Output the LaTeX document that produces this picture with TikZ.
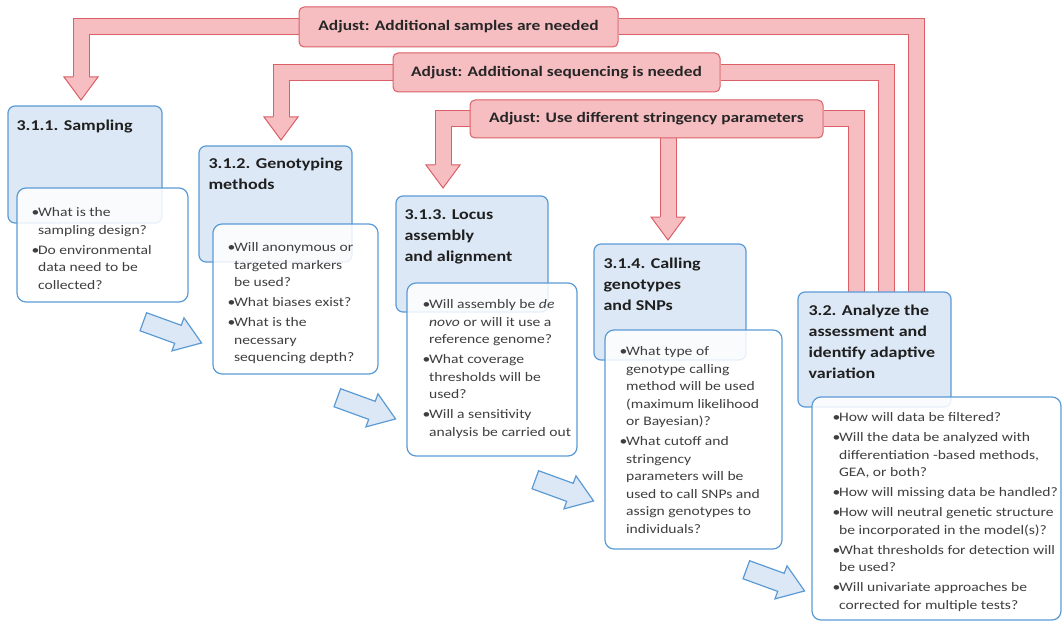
\documentclass[tikz,border=0pt]{standalone}
\usepackage{fontspec}
\setmainfont{Carlito}[FakeStretch=1.2]
\usepackage{tikz}
\usetikzlibrary{calc,shapes.arrows,backgrounds}
\definecolor{boxblue}{HTML}{DCE8F5}
\definecolor{lineblue}{HTML}{5B9BD5}
\definecolor{bandpink}{HTML}{F7BEC2}
\definecolor{bandred}{HTML}{DA5F66}
\definecolor{bodygrey}{HTML}{3F3F3F}
\newcommand\bu{\makebox[0.5em][l]{\textbullet}}
\newcommand\hg{\hspace*{0.5em}}
\newcommand\redhead[1]{\filldraw[fill=bandpink,draw=bandred,line width=1pt] ($(#1)+(-8,0)$) -- ++(-9,0) -- ($(#1)+(0,23)$) -- ($(#1)+(17,0)$) -- ++(-9,0);}

\begin{document}
\begin{tikzpicture}[x=1pt,y=-1pt,
  band/.style={draw=bandred,line width=1pt,double=bandpink,double distance=15pt},
  adjust/.style={rectangle,rounded corners=5pt,fill=bandpink,draw=bandred,line width=1pt,font=\fontsize{14.5}{17}\selectfont\bfseries,text=black!85},
  stage/.style={rectangle,rounded corners=7pt,fill=boxblue,draw=lineblue,line width=1.2pt},
  questions/.style={rectangle,rounded corners=9pt,fill=white,fill opacity=0.85,text opacity=1,draw=lineblue,line width=1.2pt},
  heading/.style={anchor=north west,inner sep=0pt,align=left,font=\fontsize{15}{21}\selectfont\bfseries,text=black!88},
  qtext/.style={anchor=north west,inner sep=0pt,align=left,font=\fontsize{13}{17.5}\selectfont,text=bodygrey},
  flow/.style={single arrow,single arrow head extend=8pt,single arrow tip angle=70,inner xsep=0pt,inner ysep=9pt,minimum height=62pt,fill=boxblue,draw=lineblue,line width=1.2pt,rotate=-20}]
\useasboundingbox (0,0) rectangle (1063,623);

% adjust labels
\node[adjust,minimum width=319pt,minimum height=40pt] (adj1) at (458.5,27) {Adjust: Additional samples are needed};
\node[adjust,minimum width=327pt,minimum height=39pt] (adj2) at (556.5,72.5) {Adjust: Additional sequencing is needed};
\node[adjust,minimum width=353pt,minimum height=38pt] (adj3) at (646.5,119) {Adjust: Use different stringency parameters};

% stages
\node[stage,minimum width=154pt,minimum height=117pt] (samp) at (85,164.5) {};
\node[questions,minimum width=171pt,minimum height=114pt] (sampq) at (102.5,245) {};
\node[heading] (samph) at ($(samp.north west)+(9,14)$) {3.1.1. Sampling};
\node[qtext] (sampt) at ($(sampq.north west)+(15,20)$) {\bu What is the\\\hg sampling design?\\[2.5pt]\bu Do environmental\\\hg data need to be\\\hg collected?};

\node[stage,minimum width=153pt,minimum height=116pt] (geno) at (275.5,204) {};
\node[questions,minimum width=165pt,minimum height=150pt] (genoq) at (295.5,299) {};
\node[heading] (genoh) at ($(geno.north west)+(10,12)$) {3.1.2. Genotyping\\methods};
\node[qtext] (genot) at ($(genoq.north west)+(15,19)$) {\bu Will anonymous or\\\hg targeted markers\\\hg be used?\\[2.5pt]\bu What biases exist?\\[2.5pt]\bu What is the\\\hg necessary\\\hg sequencing depth?};

\node[stage,minimum width=152pt,minimum height=116pt] (locus) at (472,254) {};
\node[questions,minimum width=170pt,minimum height=173pt] (locusq) at (492,369.5) {};
\node[heading] (locush) at ($(locus.north west)+(9,14)$) {3.1.3. Locus\\assembly\\and alignment};
\node[qtext] (locust) at ($(locusq.north west)+(16,17)$) {\bu Will assembly be \textit{de}\\\hg\textit{novo} or will it use a\\\hg reference genome?\\[2.5pt]\bu What coverage\\\hg thresholds will be\\\hg used?\\[2.5pt]\bu Will a sensitivity\\\hg analysis be carried out};

\node[stage,minimum width=152pt,minimum height=116pt] (call) at (670,302) {};
\node[questions,minimum width=177pt,minimum height=219pt] (callq) at (693.5,439.5) {};
\node[heading] (callh) at ($(call.north west)+(10,14)$) {3.1.4. Calling\\genotypes\\and SNPs};
\node[qtext] (callt) at ($(callq.north west)+(15,17)$) {\bu What type of\\\hg genotype calling\\\hg method will be used\\\hg (maximum likelihood\\\hg or Bayesian)?\\[2.5pt]\bu What cutoff and\\\hg stringency\\\hg parameters will be\\\hg used to call SNPs and\\\hg assign genotypes to\\\hg individuals?};

\node[stage,minimum width=153pt,minimum height=115pt] (ana) at (874.5,349.5) {};
\node[questions,minimum width=249pt,minimum height=223pt] (anaq) at (936.5,508.5) {};
\node[heading] (anah) at ($(ana.north west)+(11,13)$) {3.2. Analyze the\\assessment and\\identify adaptive\\variation};
\node[qtext] (anat) at ($(anaq.north west)+(21,16)$) {\bu How will data be filtered?\\[2.5pt]\bu Will the data be analyzed with\\\hg differentiation -based methods,\\\hg GEA, or both?\\[2.5pt]\bu How will missing data be handled?\\[2.5pt]\bu How will neutral genetic structure\\\hg be incorporated in the model(s)?\\[2.5pt]\bu What thresholds for detection will\\\hg be used?\\[2.5pt]\bu Will univariate approaches be\\\hg corrected for multiple tests?};

% flow arrows
\node[flow] (f1) at (166,330) {};
\node[flow] (f2) at (360,406) {};
\node[flow] (f3) at (558,488) {};
\node[flow] (f4) at (769,578) {};

% feedback bands
\coordinate (samptop) at (81,77);
\coordinate (genotop) at (281,117);
\coordinate (locustop) at (443,165);
\coordinate (calltop) at (668,217);
\coordinate (ana1) at (916,300);
\coordinate (ana2) at (886,300);
\coordinate (ana3) at (856,300);
\begin{scope}[on background layer]
\draw[band] (adj1.west) -| (samptop);
\draw[band] (adj2.west) -| (genotop);
\draw[band] (adj3.west) -| (locustop);
\draw[band] (adj3 -| calltop) -- (calltop);
\draw[band] (adj1.east) -| (ana1);
\draw[band] (adj2.east) -| (ana2);
\draw[band] (adj3.east) -| (ana3);
\redhead{samptop}
\redhead{genotop}
\redhead{locustop}
\redhead{calltop}
\end{scope}
\end{tikzpicture}
\end{document}
